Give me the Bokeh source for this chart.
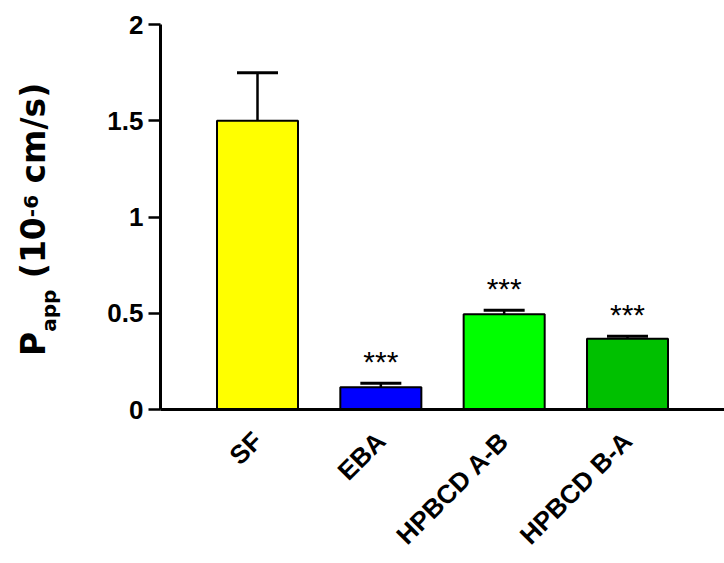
import math
from bokeh.plotting import figure
from bokeh.layouts import row
from bokeh.models import ColumnDataSource, FactorRange, Range1d, Whisker, TeeHead, FixedTicker, Div
from bokeh.core.properties import value
from bokeh.embed import file_html
from bokeh.resources import INLINE

# ---- data ----
categories = ["SF", "EBA", "HPBCD A-B", "HPBCD B-A"]
means = [1.50, 0.115, 0.495, 0.368]
upper = [1.75, 0.137, 0.515, 0.380]
stars = ["", "***", "***", "***"]
colors = ["#FFFF00", "#0000FF", "#00FF00", "#00C000"]
y_ticks = [0, 0.5, 1, 1.5, 2]
y_tick_labels = ["0", "0.5", "1", "1.5", "2"]
y_title_main = "P"
y_title_sub = "app"
y_title_mid = " (10"
y_title_sup = "-6"
y_title_end = " cm/s)"

src = ColumnDataSource(dict(cat=categories, mean=means, upper=upper, star=stars, color=colors))

LEFT_W = 70
p = figure(
    x_range=FactorRange(factors=categories, range_padding=0.2865, range_padding_units="absolute"),
    y_range=Range1d(0, 2),
    width=724 - LEFT_W, height=563,
    output_backend="svg", toolbar_location=None,
    min_border_left=160 - LEFT_W, min_border_right=0, min_border_top=24, min_border_bottom=154,
)
p.background_fill_color = "white"
p.border_fill_color = "white"
p.outline_line_color = None
p.xgrid.visible = False
p.ygrid.visible = False

p.vbar(x="cat", top="mean", bottom=0, width=0.657, fill_color="color",
       line_color="black", line_width=2, source=src)

w = Whisker(base="cat", lower="mean", upper="upper", source=src,
            line_color="black", line_width=2.5,
            upper_head=TeeHead(size=41, line_color="black", line_width=3),
            lower_head=None, level="glyph")
p.add_layout(w)

p.text(x="cat", y="upper", text="star", source=src, text_align="center",
       text_baseline="alphabetic", y_offset=-22,
       text_font=value("Liberation Sans"), text_font_size=value("30px"), text_color="black")

# y axis
ya = p.yaxis[0]
ya.ticker = FixedTicker(ticks=y_ticks)
ya.major_label_overrides = {t: s for t, s in zip(y_ticks, y_tick_labels)}
ya.axis_line_width = 3
ya.axis_line_color = "black"
ya.major_tick_line_width = 2.5
ya.major_tick_out = 12
ya.major_tick_in = 0
ya.minor_tick_out = 0
ya.minor_tick_in = 0
ya.major_label_text_font = "Liberation Sans"
ya.major_label_text_font_style = "bold"
ya.major_label_text_font_size = "26px"
ya.major_label_text_color = "black"
ya.major_label_standoff = 5

# x axis
xa = p.xaxis[0]
xa.axis_line_width = 3
xa.axis_line_color = "black"
xa.major_tick_line_color = None
xa.major_tick_out = 0
xa.major_tick_in = 0
xa.major_label_orientation = math.pi / 4
xa.major_label_text_font = "Liberation Sans"
xa.major_label_text_font_style = "bold"
xa.major_label_text_font_size = "26px"
xa.major_label_text_color = "black"
xa.major_label_standoff = 27

# y axis title with sub/superscripts as rotated HTML text
title_html = (
    '<div style="position:absolute; left:16.6px; top:356px; transform-origin:0 0; '
    'transform:rotate(-90deg); white-space:pre; line-height:33px; '
    "font-family:'DejaVu Sans'; font-weight:bold; font-size:33px; color:#000;\">"
    + y_title_main
    + '<span style="font-size:20px; position:relative; top:11px;">' + y_title_sub + '</span>'
    + y_title_mid
    + '<span style="font-size:20px; position:relative; top:-7px;">' + y_title_sup + '</span>'
    + y_title_end
    + '</div>'
)
ytitle = Div(text=title_html, width=LEFT_W, height=563, margin=0,
             styles={"overflow": "visible", "position": "relative"})

layout = row(ytitle, p, spacing=0)
open("out.html", "w").write(file_html(layout, INLINE))
